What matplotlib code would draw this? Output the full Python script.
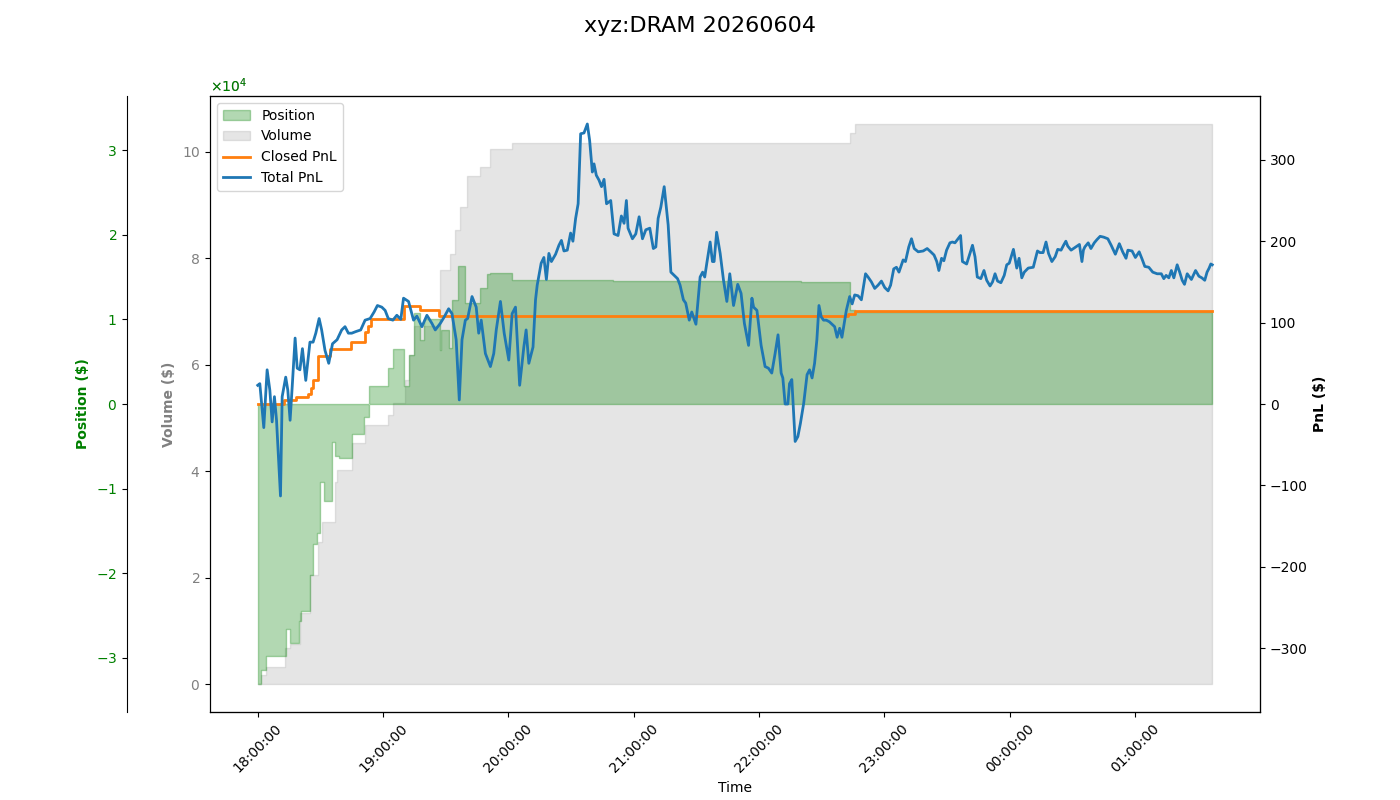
import matplotlib
matplotlib.use("Agg")
import matplotlib.pyplot as plt
import matplotlib.dates as mdates
from matplotlib.ticker import ScalarFormatter
import pandas as pd

# session start, all times below are minutes after it
start = pd.Timestamp("2026-06-04 18:00:00")
title = "xyz:DRAM 20260604"

# total PnL ($)
pnl_min = [0, 1, 2.9, 4.5, 5.8, 6.9, 8, 9, 10.9, 11.7, 13.4, 14.4, 15.5, 16.5, 17.9, 18.9, 20.2, 21.4, 23, 25,
           26.5, 27.8, 29.4, 30.6, 32.2, 34, 35.8, 38, 40.2, 41.8, 43.4, 45, 47, 49.3, 51.4, 53.8, 55.7, 57.3,
           59.4, 61, 62.5, 64.7, 66.6, 68.5, 69.8, 72.2, 74.6, 76.2, 78.6, 81, 83.4, 85, 87.4, 89.3, 91.4, 93,
           95, 96.5, 97.8, 99.4, 100.5, 102.6, 104.6, 105.8, 107, 109, 111.4, 113, 114.2, 116.2, 118, 120.2,
           121.8, 123.4, 125.4, 127.4, 128.5, 129.8, 131.8, 133, 133.8, 135.7, 137, 138.2, 139.4, 140.6, 142.6,
           144.2, 145.4, 146.6, 148.2, 149.8, 150.9, 152.2, 153.4, 154.6, 156.2, 157.8, 158.9, 160.2, 161,
           162.1, 163.4, 164.6, 165.8, 167, 169, 170.6, 172.5, 174.1, 175.4, 176.5, 177.3, 179.4, 181, 182.6,
           184.2, 185.8, 187.7, 189.4, 190.6, 191.7, 193, 194.6, 196.5, 197.8, 199.4, 201, 202.2, 203.8, 204.9,
           206.6, 207.8, 209.8, 211.8, 213, 214, 215, 216.6, 217.7, 218.5, 219.7, 221.4, 223, 224.6, 226, 227.8,
           229.8, 231.4, 233, 235, 236.6, 237.4, 239, 241, 242.9, 244.5, 246.1, 247.7, 249.1, 250.6, 251.4,
           252.5, 253.8, 254.6, 255.7, 257.3, 258.6, 259.8, 261.4, 263, 264.2, 265.4, 266.6, 267.7, 268.7,
           269.8, 270.9, 272.2, 273.7, 275.4, 276.2, 277.4, 278.6, 279.7, 281.8, 283.4, 284.6, 285.8, 287.4,
           289, 291, 292.2, 293.8, 295.4, 297, 298.6, 300.2, 301.8, 303, 304.5, 305.8, 307, 309, 310.1, 311.7,
           313, 314.3, 316.2, 318.6, 320.5, 322.2, 323.8, 325.1, 326.1, 327.4, 328.5, 329.8, 331.4, 332.6,
           333.8, 335, 336.5, 337.4, 339.4, 341, 342.2, 343.4, 344.5, 346.2, 347.7, 349, 350.6, 351.8, 353,
           354.2, 355.8, 357.4, 358.6, 359.8, 361.8, 363.4, 364.5, 365.8, 367, 368.9, 371.3, 373.3, 374.5,
           376, 377.4, 378.6, 380.2, 381.8, 383, 384.6, 385.8, 386.9, 387.8, 389.4, 391.7, 393.4, 394.6,
           395.3, 396, 397.6, 398.9, 400.5, 401.8, 403.3, 405, 407, 408.6, 410.6, 412.5, 414.1, 415.7, 416.6,
           418.6, 420.2, 422, 423.4, 424.7, 426.6, 428.5, 430.6, 432.6, 433.8, 434.9, 436.2, 437.4, 438.6,
           440.2, 441.4, 442.6, 443.7, 445, 447, 449, 450.6, 452, 453.4, 454.5, 455.5, 456.3, 457]
pnl_total = [23, 25, -29, 42, 17, -22, 9, -20, -113, 9, 33, 17, -20, 21, 81, 44, 42, 68, 29, 76,
             76, 87, 105, 91, 66, 50, 74, 79, 91, 95, 87, 87, 89, 91, 103, 105, 113, 121,
             119, 115, 105, 103, 109, 104, 130, 126, 103, 108, 95, 109, 99, 91, 99, 107, 117, 111,
             79, 5, 79, 103, 105, 132, 119, 87, 103, 62, 46, 62, 91, 126, 87, 54,
             111, 119, 23, 70, 91, 50, 70, 128, 146, 173, 180, 153, 185, 175, 184,
             195, 201, 188, 189, 210, 200, 228, 246, 332, 333, 344, 324, 285, 295,
             281, 275, 267, 276, 246, 250, 209, 207, 231, 222, 250, 216, 203, 209, 230,
             203, 214, 216, 191, 193, 228, 242, 267, 220, 162, 158, 154, 146, 128, 124,
             103, 113, 98, 156, 162, 156, 173, 199, 175, 175, 211, 185, 152, 126, 160, 121,
             147, 136, 99, 72, 130, 119, 115, 72, 46, 44, 38, 62, 85, 38, 32,
             0, 0, 25, 30, -46, -40, -24, 1, 36, 42, 32, 50, 79, 121,
             107, 103, 103, 101, 97, 95, 82, 93, 82, 115, 132, 123, 134, 133,
             128, 160, 156, 150, 142, 146, 151, 143, 139, 146, 166, 168, 162, 177, 175, 193,
             203, 191, 187, 188, 191, 187, 183, 175, 164, 179, 176, 189, 198, 199,
             198, 202, 207, 175, 172, 185, 195, 181, 156, 154, 164, 152, 145, 150, 160,
             151, 149, 158, 171, 173, 190, 167, 179, 155, 162, 167, 168, 188, 186,
             186, 199, 185, 175, 181, 190, 189, 195, 200, 194, 189, 193, 196, 175,
             189, 193, 198, 191, 198, 202, 206, 205, 203, 195, 184, 197, 187, 179, 189,
             188, 180, 187, 178, 169, 168, 162, 160, 160, 154, 158, 155, 164, 155,
             171, 162, 152, 147, 160, 153, 164, 157, 155, 152, 162, 167, 172, 171]

# closed PnL ($), changes only on fills
closed_min = [0, 12.5, 18.4, 24, 25.6, 26.7, 28.8, 34.4, 44.8, 51.2, 53, 54, 69.8, 77.8, 87, 282.6, 285.8, 457]
closed_pnl = [0, 5, 8, 12, 20, 29, 59, 68, 76, 89, 96, 104, 121, 115, 108, 110, 114, 114]

# position ($)
pos_min = [0, 1.8, 4.2, 13.4, 15.4, 19.8, 20.6, 25, 26.6, 28.3, 29.9, 31.5, 35.5, 37.1, 38.7, 45.1, 50.7,
           53.1, 62.6, 65, 69.8, 72.6, 74.6, 77.8, 79.4, 87.4, 87.7, 91.4, 93, 95.7, 99.4, 106.6, 109.8,
           111.4, 121.8, 170, 220, 260, 283.4, 285.8, 457]
position = [-33100, -31400, -29800, -26600, -28300, -25700, -24500, -20200, -16600, -15300, -9200, -11500,
            -4450, -6200, -6400, -3500, -1500, 2100, 4300, 6450, 2100, 5800, 10700, 7550, 10100, 6400,
            8700, 6600, 12300, 16300, 11900, 13700, 15400, 15500, 14600, 14550, 14500, 14450, 11100,
            10900, 10900]

# cumulative traded volume ($)
vol_min = [0, 1.8, 4.2, 13, 15.4, 20.2, 25, 29, 30.6, 37, 38.1, 45, 51.4, 62.6, 65, 70.6, 72.6, 74.6,
           87.4, 92.2, 94.6, 97, 100.2, 106.6, 111, 121.8, 269, 283.4, 285.8, 457]
volume = [0, 1700, 3250, 6700, 7600, 13300, 20500, 26700, 30500, 38000, 40200, 45200, 48700, 50600,
          52800, 57100, 61800, 67200, 77800, 80700, 85300, 89700, 95500, 97200, 100500, 101600, 101700,
          103500, 105200, 105200]


def to_time(mins):
    return (start + pd.to_timedelta(mins, unit="m")).to_numpy()


fig = plt.figure(figsize=(14, 8))
fig.subplots_adjust(left=0.15, right=0.9, top=0.88, bottom=0.11)
ax_vol = fig.add_subplot(111)
ax_pos = ax_vol.twinx()
ax_pnl = ax_vol.twinx()

# volume (host axis, left side)
h_vol = ax_vol.fill_between(to_time(vol_min), 0, volume, step="post", color="gray", alpha=0.2, label="Volume")
ax_vol.set_ylabel("Volume ($)", color="gray", fontweight="bold")
ax_vol.tick_params(axis="y", labelcolor="gray")
fmt = ScalarFormatter(useMathText=True)
fmt.set_powerlimits((4, 4))
ax_vol.yaxis.set_major_formatter(fmt)

# position, on its own spine further left
h_pos = ax_pos.fill_between(to_time(pos_min), 0, position, step="post", color="green", alpha=0.3, label="Position")
ax_pos.spines["left"].set_position(("outward", 60))
ax_pos.spines["left"].set_visible(True)
ax_pos.yaxis.set_label_position("left")
ax_pos.yaxis.set_ticks_position("left")
ax_pos.set_ylabel("Position ($)", color="green", fontweight="bold")
ax_pos.tick_params(axis="y", labelcolor="green")
fmt2 = ScalarFormatter(useMathText=True)
fmt2.set_powerlimits((4, 4))
ax_pos.yaxis.set_major_formatter(fmt2)
lim = max(abs(v) for v in position) * 1.1
ax_pos.set_ylim(-lim, lim)

# PnL on the right
h_closed, = ax_pnl.plot(to_time(closed_min), closed_pnl, drawstyle="steps-post", color="tab:orange", lw=2, label="Closed PnL")
h_total, = ax_pnl.plot(to_time(pnl_min), pnl_total, color="tab:blue", lw=2, label="Total PnL")
ax_pnl.set_ylabel("PnL ($)", fontweight="bold")
lim = max(abs(v) for v in pnl_total + closed_pnl) * 1.1
ax_pnl.set_ylim(-lim, lim)

ax_vol.xaxis.set_major_locator(mdates.HourLocator())
ax_vol.xaxis.set_major_formatter(mdates.DateFormatter("%H:%M:%S"))
plt.setp(ax_vol.get_xticklabels(), rotation=45)
ax_vol.set_xlabel("Time")

ax_pnl.legend(handles=[h_pos, h_vol, h_closed, h_total], loc="upper left")
fig.suptitle(title, fontsize=16)

plt.savefig("out.png", dpi=100)
